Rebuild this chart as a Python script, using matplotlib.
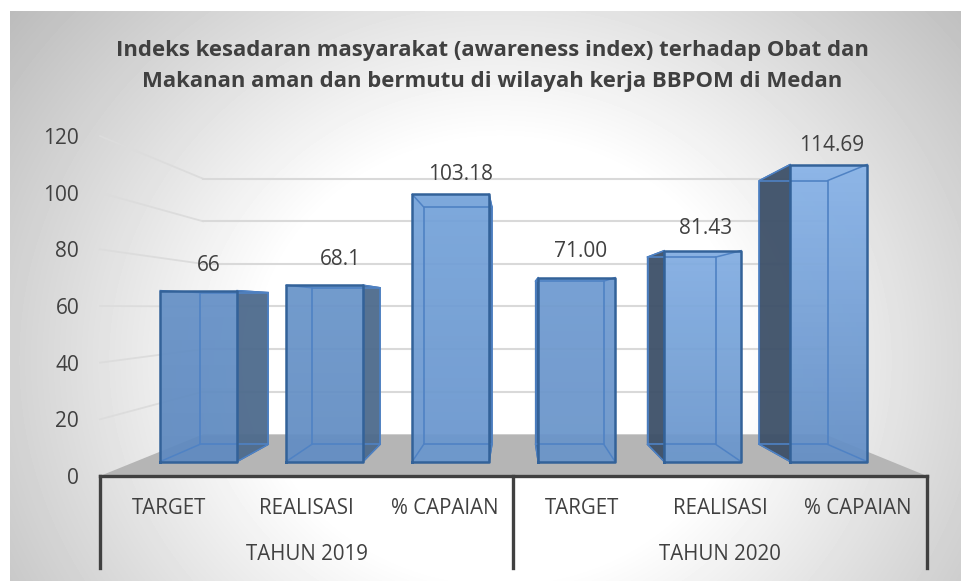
import numpy as np
import matplotlib
matplotlib.use('Agg')
import matplotlib.pyplot as plt
from matplotlib.colors import LinearSegmentedColormap
from matplotlib.patches import Polygon

# values
categories = ['TARGET', 'REALISASI', '% CAPAIAN', 'TARGET', 'REALISASI', '% CAPAIAN']
groups = ['TAHUN 2019', 'TAHUN 2020']
values = [66, 68.1, 103.18, 71.00, 81.43, 114.69]
value_labels = ['66', '68.1', '103.18', '71.00', '81.43', '114.69']
yticks = [0, 20, 40, 60, 80, 100, 120]
title = ('Indeks kesadaran masyarakat (awareness index) terhadap Obat dan\n'
         'Makanan aman dan bermutu di wilayah kerja BBPOM di Medan')

# look of each bar
bar_top = ['#6691c7', '#6a95ca', '#75a3da', '#6f9bd1', '#82ade2', '#88b3e8']
bar_bottom = ['#5f8ac0', '#628dc3', '#6a96cd', '#6a94c9', '#6a96cc', '#648fc6']
side_color = ['#4d6a8c', '#4d6a8c', '#3f6391', '#3f5a7c', '#3d5068', '#3d5068']
label_dx = [10, 16, 10, 4, 3, 3]
label_dy = [25, 26, 20, 26, 22, 19]

W, H = 961, 581
LEFT, RIGHT, Y0, Y120 = 100, 927, 476, 136
TEXT = '#404040'

# perspective of the 3d box, depth is the scale of a plane relative to the axis plane
VX, VY = 2.51, 59.3
FRONT, BACK, WALL = 0.914, 0.812, 0.752
HALF = 0.305

plt.rcParams['font.family'] = ['Open Sans', 'DejaVu Sans']


def proj(x, v, s):
    return VX + s * (x - VX), VY + s * (v - VY)


fig = plt.figure(figsize=(W / 100, H / 100), dpi=100, facecolor='white')

# chart area background
bg = fig.add_axes([10 / W, 0, 1 - 10 / W, 1 - 11 / H])
px, py = np.meshgrid(np.arange(10, W), np.arange(11, H))
r = np.hypot((px - 500) / 440, (py - 360) / 400)
shade = np.interp(r, [0, 0.55, 1.0, 1.5], [1.0, 1.0, 0.86, 0.71])
bg.imshow(shade, cmap='gray', vmin=0, vmax=1, aspect='auto')
bg.axis('off')

ax = fig.add_axes([LEFT / W, 1 - Y0 / H, (RIGHT - LEFT) / W, (Y0 - Y120) / H])
ax.patch.set_alpha(0)
ax.set_xlim(-0.5, 5.5)
ax.set_ylim(0, 120)
for s in ax.spines.values():
    s.set_visible(False)

# walls gridlines
for t in yticks[1:]:
    xa, ya = proj(-0.5, t, WALL)
    xb, yb = proj(5.5, t, WALL)
    ax.plot([-0.5, xa], [t, ya], color='#dcdcdc', lw=1.3, zorder=1, clip_on=False)
    ax.plot([xa, xb], [ya, yb], color='#d9d9d9', lw=1.5, zorder=1)

# floor
xa, ya = proj(-0.5, 0, WALL)
xb, yb = proj(5.5, 0, WALL)
ax.add_patch(Polygon([(-0.5, 0), (xa, ya), (xb, yb), (5.5, 0)], closed=True,
                     fc='#b5b5b5', ec='none', zorder=2))

# bars
for i, v in enumerate(values):
    fl, f0 = proj(i - HALF, 0, FRONT)
    fr, ft = proj(i + HALF, v, FRONT)
    bl, b0 = proj(i - HALF, 0, BACK)
    br, bt = proj(i + HALF, v, BACK)

    if bl < fl:
        side = [(bl, b0), (fl, f0), (fl, ft), (bl, bt)]
    else:
        side = [(br, b0), (fr, f0), (fr, ft), (br, bt)]
    ax.add_patch(Polygon(side, closed=True, fc=side_color[i], ec='#2f5f9b', lw=1.0,
                         alpha=0.95, zorder=3 + i * 0.1))

    cmap = LinearSegmentedColormap.from_list('b', [bar_bottom[i], bar_top[i]])
    face = Polygon([(fl, f0), (fr, f0), (fr, ft), (fl, ft)], closed=True, fc='none', ec='none')
    ax.add_patch(face)
    im = ax.imshow(np.linspace(1, 0, 64).reshape(-1, 1), cmap=cmap, vmin=0, vmax=1,
                   extent=[fl, fr, f0, ft], aspect='auto', alpha=0.94, zorder=3.05 + i * 0.1)
    im.set_clip_path(face)

    # see through edges of the box
    ax.plot([bl, br, br, bl, bl], [b0, b0, bt, bt, b0], color='#4f82c4', lw=1.2,
            zorder=3.06 + i * 0.1)
    for a, b in [((fl, f0), (bl, b0)), ((fr, f0), (br, b0)), ((fl, ft), (bl, bt)), ((fr, ft), (br, bt))]:
        ax.plot([a[0], b[0]], [a[1], b[1]], color='#4f82c4', lw=1.1, zorder=3.06 + i * 0.1)
    ax.plot([fl, fr, fr, fl, fl], [f0, f0, ft, ft, f0], color='#336299', lw=1.8,
            zorder=3.08 + i * 0.1)

    ax.annotate(value_labels[i], xy=((fl + fr) / 2, ft),
                xytext=(label_dx[i] * 0.72, label_dy[i] * 0.72), textcoords='offset points',
                ha='center', va='center', fontsize=15, color=TEXT, zorder=10)

ax.set_xlim(-0.5, 5.5)
ax.set_ylim(0, 120)

# axes
ax.set_yticks(yticks)
ax.tick_params(axis='y', length=0, pad=15, labelsize=15, labelcolor=TEXT)
ax.set_xticks(range(6))
ax.set_xticklabels(categories)
ax.tick_params(axis='x', length=0, pad=16, labelsize=14.8, labelcolor=TEXT)

tr = ax.get_xaxis_transform()
ax.plot([-0.5, 5.5], [0, 0], color=TEXT, lw=2.4, transform=tr, clip_on=False, zorder=6,
        solid_capstyle='projecting')
for x in [-0.5, 2.5, 5.5]:
    ax.plot([x, x], [0, -0.27], color=TEXT, lw=2.4, transform=tr, clip_on=False, zorder=6)
for c, g in zip([1, 4], groups):
    ax.text(c, -0.23, g, transform=tr, ha='center', va='center', fontsize=14.8, color=TEXT)

fig.text(492 / W, 1 - 66 / H, title, ha='center', va='center', fontsize=15.9, fontweight='bold',
         color=TEXT, linespacing=1.65)

fig.savefig('out.png', dpi=100)
